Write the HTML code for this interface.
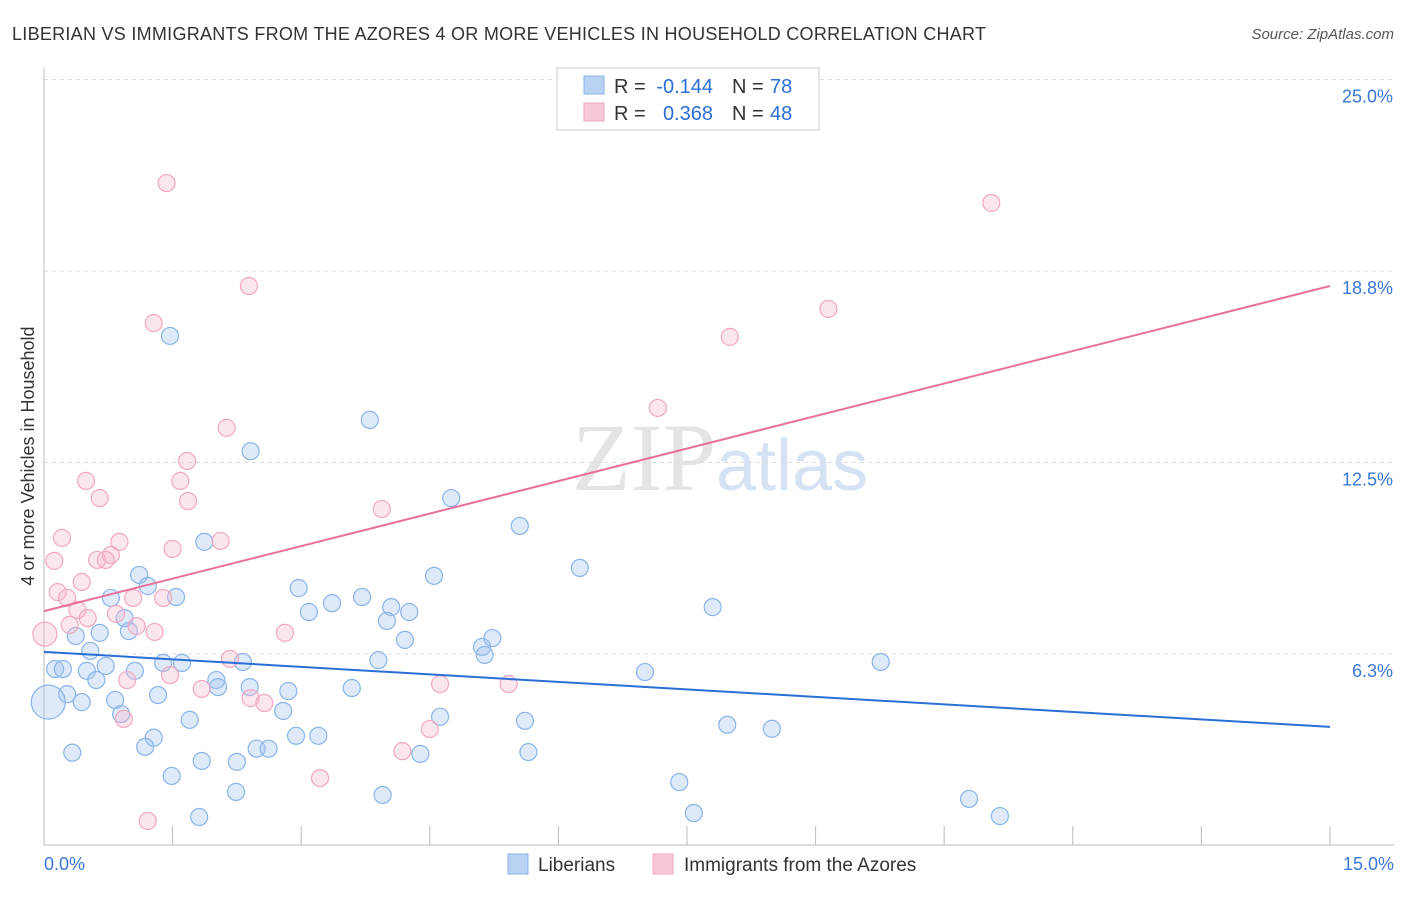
<!DOCTYPE html>
<html><head><meta charset="utf-8"><style>
body{margin:0;background:#fff;font-family:"Liberation Sans",sans-serif}
</style></head><body>
<svg id="chart" width="1406" height="892" xmlns="http://www.w3.org/2000/svg">
<text x="12" y="40" font-size="18" fill="#333" textLength="974">LIBERIAN VS IMMIGRANTS FROM THE AZORES 4 OR MORE VEHICLES IN HOUSEHOLD CORRELATION CHART</text>
<text x="1394" y="39" font-size="15" fill="#555" font-style="italic" text-anchor="end">Source: ZipAtlas.com</text>
<text transform="translate(34,456) rotate(-90)" font-size="18" fill="#333" text-anchor="middle">4 or more Vehicles in Household</text>
<text x="720" y="490" font-size="96" text-anchor="middle" fill="#e4e4e4" font-family="Liberation Serif">ZIP<tspan fill="#d4e2f4" font-family="Liberation Sans" font-size="72">atlas</tspan></text>
<g id="grid"></g><g id="pts"></g><g id="trend"></g>
<g font-size="20">
<rect x="557" y="68" width="262" height="62" fill="#fff" stroke="#ccc"/>
<rect x="584" y="76" width="20" height="18" fill="#b8d2f4" stroke="#8ab4e8"/>
<rect x="584" y="103" width="20" height="18" fill="#f8c8d8" stroke="#f0a8c0"/>
<text x="614" y="93" fill="#333">R =</text><text x="713" y="93" fill="#2a6fd6" text-anchor="end">-0.144</text>
<text x="732" y="93" fill="#333">N =</text><text x="770" y="93" fill="#2a6fd6">78</text>
<text x="614" y="120" fill="#333">R =</text><text x="713" y="120" fill="#2a6fd6" text-anchor="end">0.368</text>
<text x="732" y="120" fill="#333">N =</text><text x="770" y="120" fill="#2a6fd6">48</text>
</g>
<g>
<rect x="508" y="854" width="20" height="20" fill="#b8d2f4" stroke="#8ab4e8"/>
<text x="538" y="871" font-size="19" fill="#333">Liberians</text>
<rect x="653" y="854" width="20" height="20" fill="#f8c8d8" stroke="#f0a8c0"/>
<text x="684" y="871" font-size="19" fill="#333">Immigrants from the Azores</text>
</g>
</svg>
<script>
const yTicks=[6.25,12.5,18.75,25];
const yTickLabels=["6.3%","12.5%","18.8%","25.0%"];
const xLabels=["0.0%","15.0%"];
const libX=[1.47,3.80,2.41,4.75,5.55,1.87,6.25,1.11,4.55,1.21,2.97,0.78,1.54,3.36,3.71,3.09,4.05,4.26,7.80,4.00,0.94,0.99,0.65,0.37,4.21,5.23,5.11,5.14,0.54,3.90,9.76,1.39,1.61,2.32,0.13,0.22,0.50,0.72,1.06,7.01,0.61,2.01,2.03,2.40,2.85,3.59,1.33,0.27,0.44,0.83,0.05,2.79,0.90,4.62,1.70,5.61,7.97,8.49,1.28,2.94,3.20,1.18,2.48,2.62,0.33,4.39,5.65,1.84,2.25,1.49,7.41,2.24,3.95,10.79,7.58,1.81,11.15];
const libY=[16.63,13.89,12.87,11.34,10.43,9.91,9.06,8.83,8.80,8.47,8.40,8.08,8.11,7.91,8.11,7.62,7.78,7.62,7.78,7.33,7.42,7.00,6.94,6.84,6.71,6.77,6.48,6.22,6.35,6.05,5.99,5.96,5.96,5.99,5.76,5.76,5.70,5.86,5.70,5.66,5.40,5.40,5.17,5.17,5.04,5.14,4.91,4.94,4.68,4.75,4.68,4.39,4.29,4.20,4.10,4.07,3.94,3.81,3.52,3.58,3.58,3.22,3.16,3.16,3.03,2.99,3.05,2.76,2.73,2.27,2.07,1.75,1.65,1.52,1.06,0.93,0.96];
const libBig=[50];
const azX=[1.43,11.05,2.39,9.15,1.28,8.00,7.16,2.13,1.67,0.49,1.59,0.65,1.68,3.94,0.21,2.06,0.88,1.50,0.12,0.62,0.78,0.72,0.44,0.16,0.27,1.04,1.39,0.39,0.51,0.84,0.30,1.08,1.29,0.01,2.81,2.17,1.47,0.97,4.62,5.42,1.84,2.41,2.57,0.93,4.50,4.18,3.22,1.21];
const azY=[21.62,20.97,18.26,17.51,17.05,16.60,14.28,13.63,12.55,11.90,11.90,11.34,11.24,10.98,10.04,9.94,9.91,9.68,9.29,9.32,9.48,9.32,8.60,8.27,8.08,8.08,8.08,7.69,7.42,7.56,7.20,7.16,6.97,6.90,6.94,6.09,5.56,5.40,5.27,5.27,5.11,4.81,4.65,4.13,3.80,3.08,2.20,0.80];
const azBig=[33];
const libTrend=[6.32,3.87];
const azTrend=[7.65,18.26];
const NS="http://www.w3.org/2000/svg";
const X=v=>44+v*85.73, Y=v=>845.5-v*30.64;
function mk(t,a,p){const e=document.createElementNS(NS,t);for(const k in a)e.setAttribute(k,a[k]);document.getElementById(p).appendChild(e);return e;}
yTicks.forEach((t,i)=>{
 const l=mk('line',{x1:44,x2:1394,y1:Y(t),y2:Y(t),stroke:'#ddd','stroke-dasharray':'4,4'},'grid');
 
 
 const tx=mk('text',{x:1393,y:Y(t)+23,'font-size':18,fill:'#3a78d8','text-anchor':'end'},'grid');
 tx.textContent=yTickLabels[i];
 
 
});
const ax=mk('line',{x1:44,x2:1394,y1:845,y2:845,stroke:'#bbb'},'grid');


const ay=mk('line',{x1:44,x2:44,y1:68,y2:845,stroke:'#bbb'},'grid');


for(let i=1;i<=10;i++){const t=mk('line',{x1:X(i*1.5),x2:X(i*1.5),y1:826,y2:845,stroke:'#bbb'},'grid');
 
 }
[[0,'start',44],[15,'end',1394]].forEach((d,i)=>{const t=mk('text',{x:d[2],y:870,'font-size':18,fill:'#3a78d8','text-anchor':d[1]},'grid');t.textContent=xLabels[i];
 
 });
function pts(xs,ys,big,br,f,s,name){xs.forEach((x,i)=>{const c=mk('circle',{cx:X(x),cy:Y(ys[i]),r:big.includes(i)?br:8.5,fill:f,stroke:s,'stroke-width':1.2},'pts');
 
 });}
pts(libX,libY,libBig,17,'rgba(160,196,240,0.35)','#8ab4e8','liberian-point');
pts(azX,azY,azBig,12,'rgba(246,184,204,0.35)','#f0a8c0','azores-point');
const t1=mk('line',{x1:X(0),y1:Y(libTrend[0]),x2:X(15),y2:Y(libTrend[1]),stroke:'#2a6fd6','stroke-width':2},'trend');


const t2=mk('line',{x1:X(0),y1:Y(azTrend[0]),x2:X(15),y2:Y(azTrend[1]),stroke:'#e8709a','stroke-width':2},'trend');


</script>
</body></html>
